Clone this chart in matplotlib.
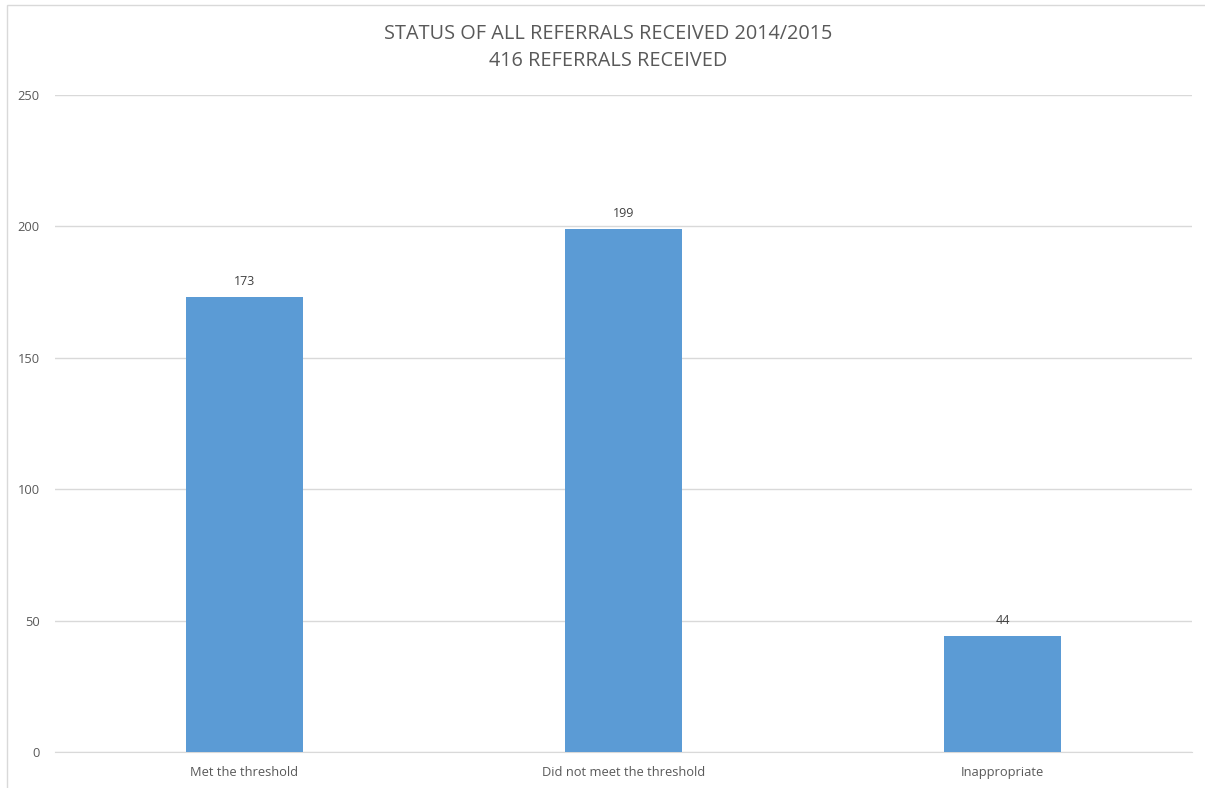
import matplotlib.pyplot as plt
from matplotlib.patches import Rectangle

categories = ["Met the threshold", "Did not meet the threshold", "Inappropriate"]
counts = [173, 199, 44]
yticks = [0, 50, 100, 150, 200, 250]

plt.rcParams['font.family'] = ['Open Sans', 'DejaVu Sans']

fig = plt.figure(figsize=(12.05, 7.88), dpi=100)
ax = fig.add_axes([55/1205, 1 - 752/788, (1192-55)/1205, (752-95)/788])

x = list(range(len(categories)))
bars = ax.bar(x, counts, width=0.31, color="#5B9BD5", zorder=3)

for xi, v in zip(x, counts):
    ax.text(xi, v + 3.5, str(v), ha="center", va="bottom", fontsize=9, color="#404040")

ax.set_xlim(-0.5, 2.5)
ax.set_ylim(0, 250)
ax.set_yticks(yticks)
ax.set_xticks(x)
ax.set_xticklabels(categories)
ax.tick_params(axis="both", length=0, labelsize=9.3, colors="#595959")
ax.tick_params(axis="y", pad=11)
ax.tick_params(axis="x", pad=10)
ax.grid(axis="y", color="#D9D9D9", linewidth=1, zorder=0)
for s in ["top", "right", "left"]:
    ax.spines[s].set_visible(False)
ax.spines["bottom"].set_color("#D9D9D9")

fig.text(0.505, 1 - 34/788, "STATUS OF ALL REFERRALS RECEIVED 2014/2015", ha="center",
         va="center", fontsize=14.3, color="#595959")
fig.text(0.505, 1 - 61/788, "416 REFERRALS RECEIVED", ha="center",
         va="center", fontsize=14.3, color="#595959")

# chart area border (cut off at right and bottom)
fig.patches.append(Rectangle((7/1205, -0.1), 1.2, 1 - 5/788 + 0.1, transform=fig.transFigure,
                             fill=False, edgecolor="#D9D9D9", linewidth=1))

fig.savefig("out.png", dpi=100)
